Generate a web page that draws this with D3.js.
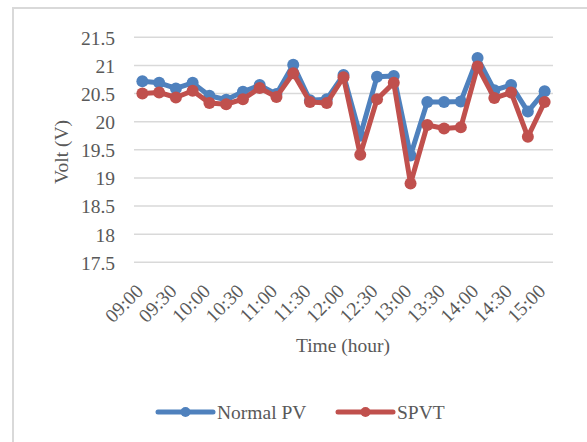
<!DOCTYPE html>
<html><head><meta charset="utf-8">
<script src="https://cdn.jsdelivr.net/npm/d3@7"></script>
<style>body{margin:0;background:#fff}svg{display:block}text{font-family:"Liberation Serif","Times New Roman",serif;fill:#595959}</style>
</head><body><svg id="c" width="587" height="442"></svg>
<script>
const times = ["09:00","09:15","09:30","09:45","10:00","10:15","10:30","10:45","11:00","11:15","11:30","11:45","12:00","12:15","12:30","12:45","13:00","13:15","13:30","13:45","14:00","14:15","14:30","14:45","15:00"];
const normalPV = [20.72,20.69,20.59,20.69,20.46,20.39,20.53,20.65,20.49,21.01,20.38,20.40,20.83,19.75,20.80,20.81,19.40,20.35,20.35,20.36,21.13,20.56,20.65,20.18,20.54];
const spvt = [20.50,20.52,20.43,20.55,20.33,20.31,20.40,20.60,20.44,20.86,20.35,20.33,20.79,19.41,20.40,20.69,18.90,19.94,19.88,19.90,20.98,20.42,20.52,19.73,20.35];
const yTicks = [17.5,18,18.5,19,19.5,20,20.5,21,21.5];
const series = [{name:"Normal PV", values: normalPV, color:"#4F81BD"},{name:"SPVT", values: spvt, color:"#C0504D"}];

const FS = 19.5;
const svg = d3.select("#c");
// outer border
svg.append("path").attr("d","M13,442V8H587").attr("fill","none").attr("stroke","#d9d9d9").attr("stroke-width",2);

const pL=134,pR=553,pT=37.3,pB=262.3;
const x = d3.scaleBand().domain(times).range([pL,pR]);
const y = d3.scaleLinear().domain([17.5,21.5]).range([pB,pT]);

// gridlines
svg.append("g").selectAll("line").data(yTicks).join("line")
  .attr("x1",pL).attr("x2",pR).attr("y1",d=>y(d)).attr("y2",d=>y(d))
  .attr("stroke","#d9d9d9").attr("stroke-width",1.5);

// y axis labels
const yAxis = d3.axisLeft(y).tickValues(yTicks).tickSize(0).tickPadding(0).tickFormat(d=>String(d));
const gy = svg.append("g").attr("transform",`translate(115,0)`).call(yAxis);
gy.select(".domain").remove();
gy.selectAll("text").attr("font-size",FS).attr("font-family","Liberation Serif").attr("fill","#595959").attr("dy","0.35em");

// x axis labels
const xAxis = d3.axisBottom(x).tickValues(times.filter((d,i)=>i%2===0)).tickSize(0).tickPadding(0);
const gx = svg.append("g").attr("transform",`translate(0,${pB})`).call(xAxis);
gx.select(".domain").remove();
gx.selectAll("text").attr("font-size",FS).attr("font-family","Liberation Serif").attr("fill","#595959")
  .attr("text-anchor","end").attr("dy",null).attr("y",null)
  .attr("transform","translate(2,30) rotate(-45)");

// axis titles
svg.append("text").attr("x",343).attr("y",352).attr("text-anchor","middle").attr("font-size",FS).text("Time (hour)");
svg.append("text").attr("transform","translate(68,152) rotate(-90)").attr("text-anchor","middle").attr("font-size",FS).text("Volt (V)");

const cx = d => x(d)+x.bandwidth()/2;
const line = d3.line().x((d,i)=>cx(times[i])).y(d=>y(d));
series.forEach(s=>{
  const g = svg.append("g");
  g.append("path").datum(s.values).attr("d",line).attr("fill","none").attr("stroke",s.color).attr("stroke-width",5).attr("stroke-linejoin","round");
  g.selectAll("circle").data(s.values).join("circle").attr("cx",(d,i)=>cx(times[i])).attr("cy",d=>y(d)).attr("r",6).attr("fill",s.color);
});

// legend
const legendX=[158,338];
series.forEach((s,i)=>{
  const lx=legendX[i], ly=412;
  svg.append("line").attr("x1",lx).attr("x2",lx+55).attr("y1",ly).attr("y2",ly).attr("stroke",s.color).attr("stroke-width",5).attr("stroke-linecap","round");
  svg.append("circle").attr("cx",lx+27.5).attr("cy",ly).attr("r",5).attr("fill",s.color);
  svg.append("text").attr("x",lx+59).attr("y",ly).attr("dy","0.35em").attr("font-size",FS).text(s.name);
});
</script></body></html>
